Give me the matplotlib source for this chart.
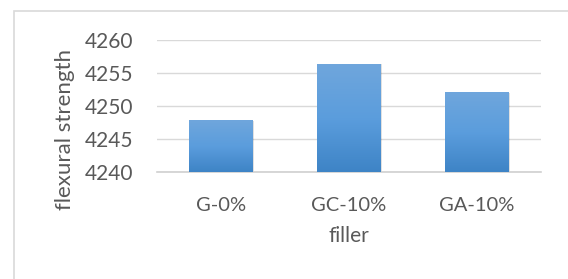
import numpy as np
import matplotlib.pyplot as plt
from matplotlib.patches import Rectangle
from matplotlib.colors import LinearSegmentedColormap

fillers = ['G-0%', 'GC-10%', 'GA-10%']
strength = [4247.75, 4256.4, 4252.1]
yticks = [4240, 4245, 4250, 4255, 4260]

plt.rcParams['font.family'] = ['Lato', 'DejaVu Sans']
txt = '#595959'

fig = plt.figure(figsize=(5.68, 2.79), dpi=100)
fig.patches.append(Rectangle((14 / 568, -0.1), 1.2, 1 - 11 / 279 + 0.1,
                             transform=fig.transFigure, fill=False,
                             edgecolor='#d9d9d9', linewidth=1.2))
ax = fig.add_axes([0.277, 0.385, 0.675, 0.472])

x = np.arange(len(fillers))
bars = ax.bar(x, strength, width=0.5, color='none', zorder=3)

cmap = LinearSegmentedColormap.from_list('b', ['#3e84c6', '#5b9ddd', '#6fa6dc'])
grad = np.linspace(0, 1, 100).reshape(-1, 1)
for b in bars:
    x0 = b.get_x()
    w = b.get_width()
    top = b.get_height()
    # soft shadow
    ax.add_patch(Rectangle((x0 + 0.01, 4240), w, top - 4240 - 0.1,
                           facecolor='#000000', alpha=0.12, zorder=2, linewidth=0))
    ax.imshow(grad, extent=(x0, x0 + w, 4240, top), origin='lower', cmap=cmap,
              aspect='auto', zorder=3)
ax.set_ylim(4240, 4260)
ax.set_xlim(-0.5, 2.5)

ax.set_yticks(yticks)
ax.yaxis.grid(True, color='#d9d9d9', linewidth=1.0, zorder=0)
ax.set_axisbelow(True)
for s in ['top', 'right', 'left']:
    ax.spines[s].set_visible(False)
ax.spines['bottom'].set_color('#d0d0d0')
ax.spines['bottom'].set_linewidth(1.2)
ax.tick_params(length=0, colors=txt)
ax.tick_params(axis='x', pad=18, labelsize=14.5)
ax.tick_params(axis='y', pad=17, labelsize=15)
ax.set_xticks(x)
ax.set_xticklabels(fillers)
ax.set_xlabel('filler', fontsize=15, color=txt, labelpad=9)
ax.set_ylabel('flexural strength', fontsize=16, color=txt)
ax.yaxis.set_label_coords(-0.215, 0.316)

fig.savefig('out.png', dpi=100)
